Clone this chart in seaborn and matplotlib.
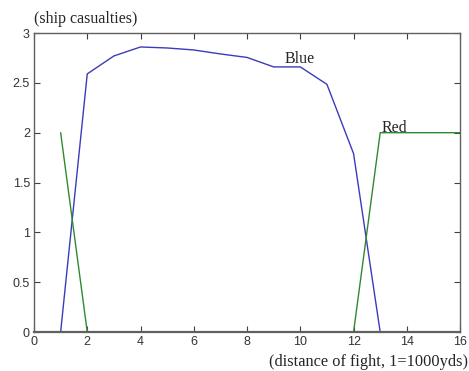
import pandas as pd
import seaborn as sns
import matplotlib.pyplot as plt

# casualties by distance of fight (1 = 1000 yds)
blue_x = [1, 2, 3, 4, 5, 6, 7, 8, 9, 10, 11, 12, 13]
blue_y = [0, 2.59, 2.77, 2.86, 2.85, 2.83, 2.79, 2.755, 2.66, 2.66, 2.485, 1.79, 0]
red_x = [1, 2, 3, 4, 5, 6, 7, 8, 9, 10, 11, 12, 13, 14, 15, 16]
red_y = [2, 0, 0, 0, 0, 0, 0, 0, 0, 0, 0, 0, 2, 2, 2, 2]

df = pd.concat([
    pd.DataFrame({'distance': blue_x, 'casualties': blue_y, 'side': 'Blue'}),
    pd.DataFrame({'distance': red_x, 'casualties': red_y, 'side': 'Red'}),
])

sns.set_style('white')
plt.rcParams['font.family'] = ['Liberation Sans', 'DejaVu Sans']

fig = plt.figure(figsize=(4.69, 3.71), dpi=100)
ax = fig.add_axes([0.0725, 0.105, 0.9085, 0.806])

sns.lineplot(data=df, x='distance', y='casualties', hue='side',
             palette={'Blue': '#3b3bbd', 'Red': '#2f8a2f'},
             linewidth=1.0, legend=False, ax=ax, zorder=1)

ax.set_xlim(0, 16)
ax.set_ylim(0, 3)
ax.set_xticks(range(0, 17, 2))
ax.set_yticks([0, 0.5, 1, 1.5, 2, 2.5, 3])
ax.set_yticklabels(['0', '0.5', '1', '1.5', '2', '2.5', '3'])
ax.set_xlabel('')
ax.set_ylabel('')

for s in ax.spines.values():
    s.set_color('#606060')
    s.set_linewidth(1.0)
    s.set_zorder(3)
ax.spines['bottom'].set_linewidth(1.6)
ax.tick_params(direction='in', length=4, width=0.8, color='#404040',
               labelsize=9, labelcolor='#333333', top=True, right=True,
               bottom=True, left=True, pad=3)

serif = ['Liberation Serif', 'DejaVu Serif']
ax.text(9.42, 2.74, 'Blue', family=serif, fontsize=11.5, va='center', ha='left')
ax.text(13.07, 2.05, 'Red', family=serif, fontsize=11.5, va='center', ha='left')
ax.text(0, 1.02, '(ship casualties)', family=serif, fontsize=11.5,
        transform=ax.transAxes, ha='left', va='bottom')
fig.text(0.997, 0.025, '(distance of fight, 1=1000yds)', family=serif,
         fontsize=11.8, ha='right', va='center')

fig.savefig('out.png', dpi=100)
